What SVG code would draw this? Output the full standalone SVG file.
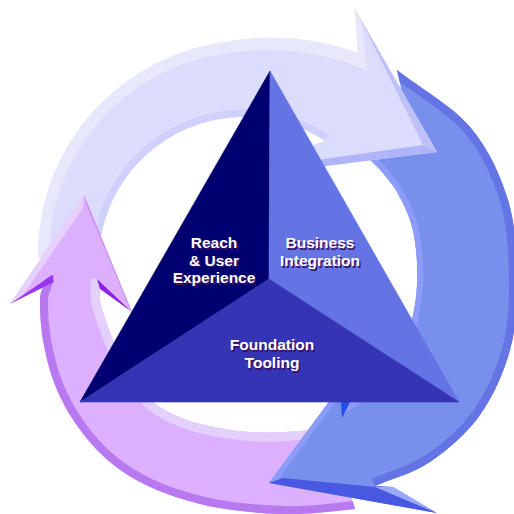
<svg xmlns="http://www.w3.org/2000/svg" width="514" height="514" viewBox="0 0 514 514">
<style>
.lbl{font-family:"Liberation Sans",Arial,Helvetica,sans-serif;font-weight:bold;font-size:15.5px;text-anchor:middle}
.sh{fill:#3a1066}
.fg{fill:#ffffff}
.face{stroke-width:0.6;stroke-linejoin:round}
</style>
<defs>
<path id="purpleBody" d="M 47 270 L 44 284 C 42.7 289.3 40.2 290.7 40 300 C 39.8 309.3 40.5 325.8 43 340 C 45.5 354.2 49.2 370.5 55 385 C 60.8 399.5 68.8 414.2 78 427 C 87.2 439.8 98 452 110 462 C 122 472 135 480 150 487 C 165 494 183.3 499.8 200 504 C 216.7 508.2 233.3 510.3 250 512 C 266.7 513.7 282.5 514.5 300 514 C 317.5 513.5 336.7 510.7 355 509 L 330 425 C 320 427 313.3 429.8 300 431 C 286.7 432.2 266.7 433.2 250 432 C 233.3 430.8 212.8 427 200 424 C 187.2 421 181 417.8 173 414 C 165 410.2 158.3 406.7 152 401 C 145.7 395.3 140.3 387.7 135 380 C 129.7 372.3 124.2 363 120 355 C 115.8 347 112.7 338.7 110 332 C 107.3 325.3 105.7 320.3 104 315 C 102.3 309.7 100.7 307.2 100 300 C 99.3 292.8 100 281.3 100 272 Z"/>
<path id="blueBody" d="M 397 70 C 421.3 89 451.5 105.3 470 127 C 488.5 148.7 500.2 174.5 508 200 C 515.8 225.5 516.7 255 517 280 C 517.3 305 516.2 327.5 510 350 C 503.8 372.5 493.3 396.3 480 415 C 466.7 433.7 447.5 450.2 430 462 C 412.5 473.8 393.3 478 375 486 L 393 487 L 437 513 L 269 483 L 336 392 L 352 388 C 363 381.3 376.2 376 385 368 C 393.8 360 400.3 348.8 405 340 C 409.7 331.2 411 324.2 413 315 C 415 305.8 416.5 295.8 417 285 C 417.5 274.2 417.2 260.8 416 250 C 414.8 239.2 413.2 229.7 410 220 C 406.8 210.3 401.7 200 397 192 C 392.3 184 386.8 177.7 382 172 C 377.2 166.3 372.7 162.7 368 158 L 401 88 Z"/>
<clipPath id="clipPurple"><use href="#purpleBody"/></clipPath>
<clipPath id="clipBlue"><use href="#blueBody"/></clipPath>
</defs>
<rect width="514" height="514" fill="#ffffff"/>

<g id="arrow-left-body">
<use href="#purpleBody" fill="#dcb0fc"/>
<g clip-path="url(#clipPurple)" fill="none">
<path d="M 47 270 L 44 284 C 42.7 289.3 40.2 290.7 40 300 C 39.8 309.3 40.5 325.8 43 340 C 45.5 354.2 49.2 370.5 55 385 C 60.8 399.5 68.8 414.2 78 427 C 87.2 439.8 98 452 110 462 C 122 472 135 480 150 487 C 165 494 183.3 499.8 200 504 C 216.7 508.2 233.3 510.3 250 512 C 266.7 513.7 282.5 514.5 300 514 C 317.5 513.5 336.7 510.7 355 509" stroke="#b878f0" stroke-width="16"/>
<path d="M 330 425 C 320 427 313.3 429.8 300 431 C 286.7 432.2 266.7 433.2 250 432 C 233.3 430.8 212.8 427 200 424 C 187.2 421 181 417.8 173 414 C 165 410.2 158.3 406.7 152 401 C 145.7 395.3 140.3 387.7 135 380 C 129.7 372.3 124.2 363 120 355 C 115.8 347 112.7 338.7 110 332 C 107.3 325.3 105.7 320.3 104 315 C 102.3 309.7 100.7 307.2 100 300 C 99.3 292.8 100 281.3 100 272" stroke="#e4d0fc" stroke-width="18"/>
</g>
</g>

<g id="arrow-right">
<use href="#blueBody" fill="#7890ec"/>
<g clip-path="url(#clipBlue)" fill="none">
<path d="M 397 70 C 421.3 89 451.5 105.3 470 127 C 488.5 148.7 500.2 174.5 508 200 C 515.8 225.5 516.7 255 517 280 C 517.3 305 516.2 327.5 510 350 C 503.8 372.5 493.3 396.3 480 415 C 466.7 433.7 447.5 450.2 430 462 C 412.5 473.8 393.3 478 375 486" stroke="#6474e4" stroke-width="16"/>
<path d="M 352 388 C 363 381.3 376.2 376 385 368 C 393.8 360 400.3 348.8 405 340 C 409.7 331.2 411 324.2 413 315 C 415 305.8 416.5 295.8 417 285 C 417.5 274.2 417.2 260.8 416 250 C 414.8 239.2 413.2 229.7 410 220 C 406.8 210.3 401.7 200 397 192 C 392.3 184 386.8 177.7 382 172 C 377.2 166.3 372.7 162.7 368 158" stroke="#8c9cf8" stroke-width="12"/>
<path d="M 269 483 L 340 386" stroke="#8c9cf8" stroke-width="11"/>
</g>
<polygon points="269,483 283,478 375,487 437,513" fill="#4858e0"/>
<polygon points="375,487 393,487 437,513" fill="#9aa8f8"/>
<polygon points="350,402 362,402 344,414" fill="#8c9cf8"/>
<polygon points="341,402 350,402 342,418" fill="#1e50f0"/>
</g>

<g id="arrow-top">
<path d="M 38 258 A 215 215 0 0 1 220 43 A 260 260 0 0 1 358 53 L 355 9 L 437 152 L 310 168 L 313 145 L 325 141 A 146 146 0 0 0 100 242 Z" fill="#dcdcfc"/>
<path d="M 38 258 A 215 215 0 0 1 220 43 A 260 260 0 0 1 358 53 L 355 9 L 361 19 L 367 70 A 249 249 0 0 0 222 54 A 204 204 0 0 0 49 258 Z" fill="#e8e8fc"/>
<path d="M 325 141 A 146 146 0 0 0 100 242 L 93 241 A 153 153 0 0 1 329 135 Z" fill="#d0d0fc"/>
<polygon points="355,9 437,152 423,145 362,22" fill="#c0c0f8"/>
<polygon points="437,152 423,145 310,161 310,168" fill="#b0b4f8"/>
</g>

<g id="arrow-left-head">
<polygon points="84,195 132,312 97,279 52,275 10,304" fill="#dcb0fc"/>
<polygon points="84,195 10,304 21,298 83,208" fill="#e8d0fc"/>
<polygon points="84,195 132,312 127,302 87,206" fill="#c88cf8"/>
<polygon points="10,304 52,275 54,282" fill="#9a34ee"/>
<polygon points="97,279 132,312 100,289" fill="#8a20e4"/>
</g>

<g id="node-reach">
<polygon class="face" points="270,71 80,402 269,279" fill="#000070" stroke="#000070"/>
<text class="lbl sh" transform="translate(1.5,1.5)"><tspan x="214" y="248">Reach</tspan><tspan x="214" y="265.5">&amp; User</tspan><tspan x="214" y="283">Experience</tspan></text>
<text class="lbl fg"><tspan x="214" y="248">Reach</tspan><tspan x="214" y="265.5">&amp; User</tspan><tspan x="214" y="283">Experience</tspan></text>
</g>

<g id="node-business">
<polygon class="face" points="270,71 459,402 269,279" fill="#6474e4" stroke="#6474e4"/>
<text class="lbl sh" transform="translate(1.5,1.5)"><tspan x="320" y="248">Business</tspan><tspan x="320" y="266">Integration</tspan></text>
<text class="lbl fg"><tspan x="320" y="248">Business</tspan><tspan x="320" y="266">Integration</tspan></text>
</g>

<g id="node-foundation">
<polygon class="face" points="80,402 459,402 269,279" fill="#3434b4" stroke="#3434b4"/>
<text class="lbl sh" transform="translate(1.5,1.5)"><tspan x="272" y="350">Foundation</tspan><tspan x="272" y="368">Tooling</tspan></text>
<text class="lbl fg"><tspan x="272" y="350">Foundation</tspan><tspan x="272" y="368">Tooling</tspan></text>
</g>
</svg>
